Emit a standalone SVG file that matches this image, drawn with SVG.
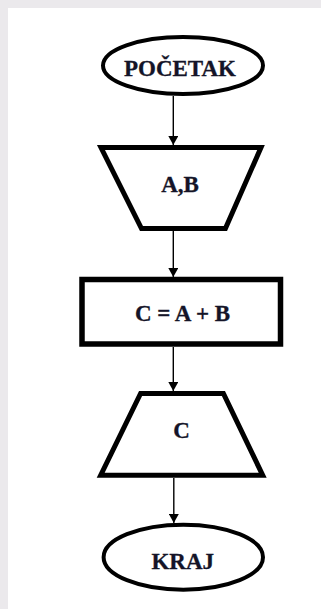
<svg xmlns="http://www.w3.org/2000/svg" width="321" height="609" viewBox="0 0 321 609">
  <style>
    .shape { fill: #ffffff; stroke: #000000; stroke-linejoin: miter; }
    .lbl { font-family: "Liberation Serif", "Times New Roman", serif; font-weight: bold; font-size: 23px; fill: #141428; text-anchor: middle; stroke: #141428; stroke-width: 0.3; }
    .conn { stroke: #000000; stroke-width: 1.4; fill: none; }
  </style>
  <defs>
    <marker id="arrow" viewBox="0 0 9 10" refX="9" refY="5" markerWidth="9" markerHeight="10" markerUnits="userSpaceOnUse" orient="auto">
      <path d="M0,0 L9,5 L0,10 z" fill="#000000"/>
    </marker>
  </defs>
  <rect x="0" y="0" width="321" height="609" fill="#ebe9ec"/>
  <rect x="8" y="8" width="313" height="601" fill="#ffffff"/>

  <g id="connectors">
    <line class="conn" x1="173.3" y1="96" x2="173.3" y2="145" marker-end="url(#arrow)"/>
    <line class="conn" x1="173.3" y1="231" x2="173.3" y2="277" marker-end="url(#arrow)"/>
    <line class="conn" x1="173.3" y1="347" x2="173.3" y2="391" marker-end="url(#arrow)"/>
    <line class="conn" x1="173.8" y1="478" x2="173.8" y2="523" marker-end="url(#arrow)"/>
  </g>

  <g id="start">
    <ellipse class="shape" cx="183" cy="65.5" rx="80" ry="28.5" stroke-width="4"/>
    <text class="lbl" x="180" y="75.5">POČETAK</text>
  </g>

  <g id="input">
    <polygon class="shape" points="101,147.5 261,147.5 225.4,228.5 141.5,228.5" stroke-width="5"/>
    <text class="lbl" x="180" y="192">A,B</text>
  </g>

  <g id="process">
    <rect class="shape" x="82" y="279.5" width="198.5" height="64.5" stroke-width="5.5"/>
    <text class="lbl" x="182.5" y="321">C = A + B</text>
  </g>

  <g id="output">
    <polygon class="shape" points="140.6,393.5 223.4,393.5 262.7,475.2 100.7,475.2" stroke-width="5"/>
    <text class="lbl" x="181.5" y="437.5">C</text>
  </g>

  <g id="end">
    <ellipse class="shape" cx="183.3" cy="557.2" rx="79.7" ry="32.5" stroke-width="4"/>
    <text class="lbl" x="182.8" y="568.5">KRAJ</text>
  </g>
</svg>
